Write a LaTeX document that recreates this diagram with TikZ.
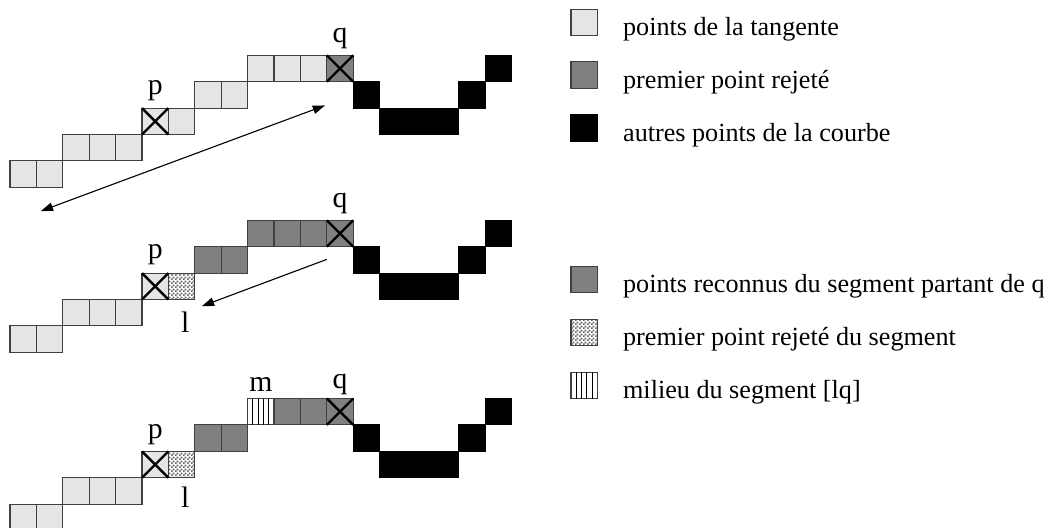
\documentclass[tikz,border=0pt]{standalone}
\usepackage{fontspec}
\setmainfont{Liberation Serif}
\usetikzlibrary{arrows.meta,positioning,patterns}

% fine checker of dots for the rejected point of the segment
\pgfdeclarepatternformonly{finedots}{\pgfpointorigin}{\pgfpoint{2.2pt}{2.2pt}}{\pgfpoint{2.2pt}{2.2pt}}{
    \pgfpathrectangle{\pgfpointorigin}{\pgfpoint{1.05pt}{1.05pt}}
    \pgfpathrectangle{\pgfpoint{1.1pt}{1.1pt}}{\pgfpoint{1.05pt}{1.05pt}}
    \pgfusepath{fill}
}
% cross drawn over a marked cell
\newcommand{\crossed}[1]{\draw[crossline] (#1.north west) -- (#1.south east) (#1.north east) -- (#1.south west);}
% vertical stripes inside a cell
\newcommand{\striped}[1]{\foreach \s in {0.2,0.4,0.6,0.8} \draw[stripeline] ([xshift=\s*0.5cm]#1.south west) -- ([xshift=\s*0.5cm]#1.north west);}

\begin{document}
\begin{tikzpicture}[
    x=0.5cm, y=0.5cm,
    cell/.style={draw=black!75, line width=0.6pt, minimum size=0.5cm, inner sep=0pt, outer sep=0pt},
    tangent/.style={cell, fill=black!10},
    rejected/.style={cell, fill=black!50},
    curvecell/.style={cell, draw=black, fill=black},
    dotcell/.style={cell, pattern=finedots, pattern color=black!60},
    stripecell/.style={cell, fill=white},
    crossline/.style={line width=1.3pt, black},
    stripeline/.style={line width=0.6pt, black},
    arrow/.style={-{Triangle[length=2.3mm, width=1.6mm]}, line width=0.6pt},
    pointname/.style={font=\fontsize{16}{18}\selectfont, inner sep=0pt},
    legendtext/.style={font=\fontsize{14.1}{17}\selectfont, inner sep=0pt}
]
\useasboundingbox (-0.379,-12.905) rectangle (39.545,7.095);

% Panel 1: tangent
\foreach \x/\y in {0/0,1/0,2/1,3/1,4/1,6/2,7/3,8/3,9/4,10/4,11/4}
    \node[tangent] at (\x+0.5,\y+0.5) {};
\node[tangent] (p1) at (5.5,2.5) {};
\node[rejected] (q1) at (12.5,4.5) {};
\foreach \x/\y in {13/3,14/2,15/2,16/2,17/3,18/4}
    \node[curvecell] at (\x+0.5,\y+0.5) {};
\crossed{p1} \crossed{q1}
\node[pointname, above=3.5pt of p1] {p};
\node[pointname, above=3.5pt of q1] {q};
\coordinate (a1) at (1.17,-0.9);
\coordinate (b1) at (11.93,3.1);
\draw[arrow, {Triangle[length=2.3mm, width=1.6mm]}-{Triangle[length=2.3mm, width=1.6mm]}] (a1) -- (b1);

% Panel 2: segment from q
\begin{scope}[shift={(0,-6.25)}]
\foreach \x/\y in {0/0,1/0,2/1,3/1,4/1}
    \node[tangent] at (\x+0.5,\y+0.5) {};
\node[tangent] (p2) at (5.5,2.5) {};
\node[dotcell] (l2) at (6.5,2.5) {};
\foreach \x/\y in {7/3,8/3,9/4,10/4,11/4}
    \node[rejected] at (\x+0.5,\y+0.5) {};
\node[rejected] (q2) at (12.5,4.5) {};
\foreach \x/\y in {13/3,14/2,15/2,16/2,17/3,18/4}
    \node[curvecell] at (\x+0.5,\y+0.5) {};
\crossed{p2} \crossed{q2}
\node[pointname, above=4.5pt of p2] {p};
\node[pointname, above=3.5pt of q2] {q};
\node[pointname, below=6.5pt of l2, xshift=2pt] {l};
\coordinate (a2) at (12.0,3.52);
\coordinate (b2) at (7.27,1.75);
\draw[arrow] (a2) -- (b2);
\end{scope}

% Panel 3: middle of [lq]
\begin{scope}[shift={(0,-13)}]
\foreach \x/\y in {0/0,1/0,2/1,3/1,4/1}
    \node[tangent] at (\x+0.5,\y+0.5) {};
\node[tangent] (p3) at (5.5,2.5) {};
\node[dotcell] (l3) at (6.5,2.5) {};
\foreach \x/\y in {7/3,8/3,10/4,11/4}
    \node[rejected] at (\x+0.5,\y+0.5) {};
\node[stripecell] (m3) at (9.5,4.5) {};
\node[rejected] (q3) at (12.5,4.5) {};
\foreach \x/\y in {13/3,14/2,15/2,16/2,17/3,18/4}
    \node[curvecell] at (\x+0.5,\y+0.5) {};
\crossed{p3} \crossed{q3} \striped{m3}
\node[pointname, above=3.5pt of p3] {p};
\node[pointname, above=2pt of q3] {q};
\node[pointname, above=3.5pt of m3] {m};
\node[pointname, below=4.8pt of l3, xshift=2pt] {l};
\end{scope}

% Legend
\node[tangent] (lg1) at (21.75,6.25) {};
\node[legendtext, right=0.48cm of lg1.south east, anchor=base west] {points de la tangente};
\node[rejected] (lg2) at (21.75,4.25) {};
\node[legendtext, right=0.48cm of lg2.south east, anchor=base west] {premier point rejeté};
\node[curvecell] (lg3) at (21.75,2.25) {};
\node[legendtext, right=0.48cm of lg3.south east, anchor=base west] {autres points de la courbe};

\node[rejected] (lg4) at (21.75,-3.5) {};
\node[legendtext, right=0.48cm of lg4.south east, anchor=base west] {points reconnus du segment partant de q};
\node[dotcell] (lg5) at (21.75,-5.5) {};
\node[legendtext, right=0.48cm of lg5.south east, anchor=base west] {premier point rejeté du segment};
\node[stripecell] (lg6) at (21.75,-7.5) {};
\striped{lg6}
\node[legendtext, right=0.48cm of lg6.south east, anchor=base west] {milieu du segment [lq]};

\end{tikzpicture}
\end{document}
